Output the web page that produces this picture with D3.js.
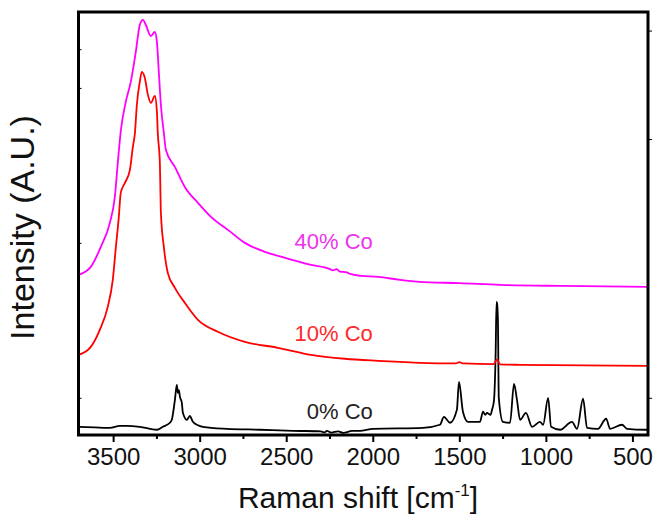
<!DOCTYPE html>
<html>
<head>
<meta charset="utf-8">
<script src="https://cdn.jsdelivr.net/npm/d3@7"></script>
<style>
  body { margin: 0; background: #fff; }
  text { font-family: "Liberation Sans", Arial, sans-serif; }
</style>
</head>
<body>
<div id="chart"></div>
<script>
// Raman spectra, [wavenumber cm-1, intensity a.u.]
const co40 = [[3700,1794],[3629,1845],[3571,1974],[3519,2129],[3490,2297],[3473,2516],[3456,2720],
  [3427,2910],[3398,3039],[3369,3232],[3346,3406],[3328,3439],[3311,3406],[3282,3335],[3259,3361],
  [3247,3297],[3236,3103],[3224,2890],[3207,2710],[3195,2600],[3143,2490],[3086,2361],[3010,2258],
  [2935,2168],[2837,2084],[2739,2000],[2623,1942],[2507,1903],[2357,1858],[2250,1832],[2230,1822],
  [2210,1830],[2190,1815],[2150,1810],[2130,1800],[2068,1787],[1970,1781],[1843,1761],[1727,1748],
  [1500,1740],[1265,1729],[900,1722],[410,1716]];

const co10 = [[3700,1277],[3629,1329],[3577,1439],[3531,1587],[3502,1761],[3484,1974],[3467,2168],
  [3456,2323],[3432,2387],[3403,2471],[3386,2619],[3374,2710],[3363,2890],[3346,3039],[3334,3103],
  [3317,3065],[3299,2955],[3282,2903],[3259,2948],[3247,2845],[3242,2710],[3230,2516],[3224,2194],
  [3207,1974],[3184,1806],[3143,1710],[3086,1613],[3010,1503],[2895,1426],[2739,1361],[2549,1323],
  [2357,1277],[2161,1252],[1970,1239],[1843,1232],[1727,1226],[1520,1222],[1500,1230],[1480,1222],
  [1300,1218],[1283,1248],[1265,1216],[1149,1213],[410,1206]];

const co0 = [[3700,813],[3692,813],[3519,806],[3461,819],[3421,819],[3346,813],[3247,794],[3213,813],
  [3172,839],[3161,858],[3143,987],[3132,1084],[3126,1032],[3120,1050],[3114,1006],[3103,968],
  [3097,903],[3074,858],[3057,884],[3039,845],[2981,813],[2843,800],[2652,794],[2461,787],
  [2300,784],[2280,776],[2265,786],[2240,775],[2200,784],[2170,774],[2120,786],[2074,787],[1999,800],
  [1710,806],[1612,826],[1589,877],[1554,839],[1514,923],[1502,1103],[1479,910],[1450,845],
  [1381,845],[1363,910],[1350,890],[1340,903],[1320,890],[1311,923],[1300,980],[1290,1300],
  [1285,1619],[1281,1600],[1277,1500],[1272,1000],[1248,845],[1207,839],[1184,1090],[1167,987],
  [1149,858],[1115,903],[1080,813],[1034,845],[1016,826],[987,1000],[970,813],[918,794],[849,845],
  [820,800],[785,994],[762,806],[699,800],[652,865],[629,800],[560,826],[531,800],[427,794],[410,794]];

const series = [
  {name: "0% Co", data: co0, color: "#000000", labelColor: "#222222", labelY: 865},
  {name: "10% Co", data: co10, color: "#ff0000", labelColor: "#ff2a2a", labelY: 1368},
  {name: "40% Co", data: co40, color: "#ff00ff", labelColor: "#ee33ee", labelY: 1961}
];

const xTicks = [3500, 3000, 2500, 2000, 1500, 1000, 500];
const xMinor = [3250, 2750, 2250, 1750, 1250, 750];
const yTicksLeft = [1000, 2000, 3000, 3250];
const yTicksRight = [1000, 2670, 3370];

const W = 653, H = 518;
const margin = {top: 12, right: 5, bottom: 83, left: 78.5};
const width = W - margin.left - margin.right;
const height = H - margin.top - margin.bottom;

const svg = d3.select("#chart").append("svg")
    .attr("width", W)
    .attr("height", H)
  .append("g")
    .attr("transform", `translate(${margin.left}, ${margin.top})`);

const x = d3.scaleLinear().domain([3700, 410]).range([0, width]);
const y = d3.scaleLinear().domain([760, 3490]).range([height, 0]);

svg.append("clipPath").attr("id", "clip")
  .append("rect").attr("width", width).attr("height", height);

const line = d3.line()
    .x(d => x(d[0]))
    .y(d => y(d[1]))
    .curve(d3.curveMonotoneX);

svg.append("g").attr("clip-path", "url(#clip)")
  .selectAll("path")
  .data(series)
  .join("path")
    .attr("fill", "none")
    .attr("stroke", d => d.color)
    .attr("stroke-width", 1.8)
    .attr("stroke-linejoin", "round")
    .attr("d", d => line(d.data));

// series labels
svg.selectAll(".lbl")
  .data(series)
  .join("text")
    .attr("class", "lbl")
    .attr("x", x(2000))
    .attr("y", d => y(d.labelY))
    .attr("text-anchor", "end")
    .attr("fill", d => d.labelColor)
    .style("font-size", "22px")
    .text(d => d.name);

// x axis
const xAxis = svg.append("g")
    .attr("transform", `translate(0, ${height})`)
    .call(d3.axisBottom(x).tickValues(xTicks).tickSize(7).tickPadding(6).tickFormat(d3.format("d")));
xAxis.select(".domain").remove();
xAxis.selectAll(".tick line").attr("stroke-width", 2);
xAxis.selectAll("text").style("font-size", "24px").attr("fill", "#111");

svg.append("g")
    .attr("transform", `translate(0, ${height})`)
    .call(d3.axisBottom(x).tickValues(xMinor).tickSize(4).tickFormat(""))
    .call(g => g.select(".domain").remove())
    .selectAll(".tick line").attr("stroke-width", 2);

// y ticks (no labels)
svg.append("g")
    .call(d3.axisRight(y).tickValues(yTicksLeft).tickSize(3).tickFormat(""))
    .call(g => g.select(".domain").remove());
svg.append("g")
    .attr("transform", `translate(${width}, 0)`)
    .call(d3.axisRight(y).tickValues(yTicksRight).tickSize(4).tickFormat(""))
    .call(g => g.select(".domain").remove());

// frame
svg.append("rect")
    .attr("width", width)
    .attr("height", height)
    .attr("fill", "none")
    .attr("stroke", "#000")
    .attr("stroke-width", 3);

// axis titles
const xt = svg.append("text")
    .attr("x", x(2085))
    .attr("y", height + 73)
    .attr("text-anchor", "middle")
    .style("font-size", "30px")
    .attr("fill", "#111");
xt.append("tspan").text("Raman shift [cm");
xt.append("tspan").attr("dy", -12).style("font-size", "17px").text("-1");
xt.append("tspan").attr("dy", 12).text("]");

svg.append("text")
    .attr("transform", `translate(${-margin.left + 34}, ${height / 2 + 4}) rotate(-90)`)
    .attr("text-anchor", "middle")
    .style("font-size", "34px")
    .attr("fill", "#111")
    .text("Intensity (A.U.)");
</script>
</body>
</html>
